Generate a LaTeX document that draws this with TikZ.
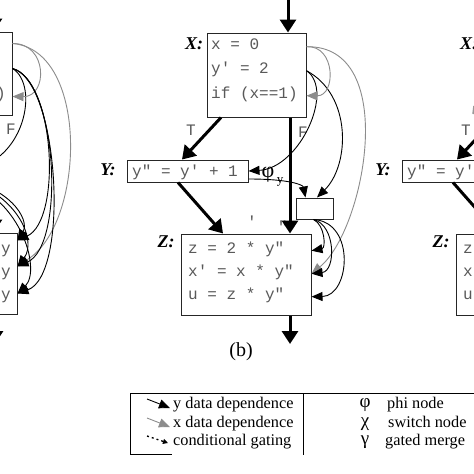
\documentclass[tikz,border=0pt]{standalone}
\usepackage{fontspec}
\setmainfont{Liberation Serif}
\setmonofont{Liberation Mono}
\usetikzlibrary{arrows.meta}
\begin{document}
\begin{tikzpicture}[x=1pt,y=-1pt,
 box/.style={draw=black!85,line width=1pt,inner sep=0pt},
 code/.style={font=\fontsize{16}{18}\selectfont\ttfamily,text=black!65,inner sep=0pt},
 lab/.style={font=\fontsize{18}{20}\selectfont\bfseries\itshape,inner sep=0pt},
 flow/.style={line width=3pt,-{Triangle[length=13pt,width=16pt]}},
 ydep/.style={line width=0.9pt,draw=black,-{Triangle[length=11pt,width=9pt]}},
 xdep/.style={line width=0.9pt,draw=black!45,-{Triangle[length=11pt,width=9pt]}},
 xline/.style={line width=1.5pt,draw=black!40},
 leg/.style={font=\fontsize{16.3}{18}\selectfont,inner sep=0pt},
 greek/.style={font=\fontsize{22}{22}\selectfont,inner sep=0pt},
 leggreek/.style={font=\fontsize{19}{19}\selectfont,inner sep=0pt},
 legline/.style={line width=0.9pt,draw=black},
]
\useasboundingbox (0,0) rectangle (474,474);
\fill[white] (0,0) rectangle (474,474);
\clip (0,0) rectangle (474,474);

% ================= panel (b) =================
\node[box,minimum width=99pt,minimum height=84pt] (X) at (256.5,75) {};
\node[code,anchor=base west] (x1) at (211,49) {x = 0};
\node[code,anchor=base west] (x2) at (211,73) {y′ = 2};
\node[code,anchor=base west] (x3) at (211,98) {if (x==1)};
\node[lab] (Xl) at (194,44) {X:};

\node[box,minimum width=121pt,minimum height=22pt] (Y) at (187.5,171) {};
\node[code,anchor=base west] (y1) at (132,176) {y″ = y′ + 1};
\node[lab] (Yl) at (108,170) {Y:};

\node[box,minimum width=37pt,minimum height=21pt] (S) at (314.5,208.5) {};

\node[box,minimum width=130pt,minimum height=81pt] (Z) at (246,274.5) {};
\node[code,anchor=base west] (z1) at (188,253) {z = 2 * y″};
\node[code,anchor=base west] (z2) at (188,276) {x′ = x * y″};
\node[code,anchor=base west] (z3) at (188,299) {u = z * y″};
\node[lab] (Zl) at (166,242) {Z:};
\node[code] (g1) at (252,222) {′};
\node[code] (g2) at (283,227) {″};

\node[code] (T) at (191,130) {T};
\node[code] (F) at (303,132) {F};
\node[greek] (phi) at (268,175) {φ};
\node[font=\fontsize{13}{13}\selectfont,inner sep=0pt] (phisub) at (280,182) {y};
\node[font=\fontsize{20}{22}\selectfont,inner sep=0pt] (capb) at (241,352) {(b)};

\coordinate (bin) at (288,-5);
\coordinate (fcol) at (290,0);
\coordinate (bout) at (290,344);
\draw[flow] (bin) -- (bin |- X.north);
\draw[flow] ([xshift=-35.5pt]X.south) -- ([xshift=-5.5pt]Y.north);
\draw[flow] (X.south -| fcol) -- (Z.north -| fcol);
\draw[flow] ([xshift=-9.5pt]Y.south) -- ([xshift=-23pt]Z.north);
\draw[flow] (Z.south -| fcol) -- (bout);

\draw[ydep] (X.east |- x2.mid) .. controls (335,90) and (300,168) .. (Y.east);
\draw[ydep] (X.east |- x2.mid) .. controls (352,95) and (350,165) .. ([xshift=2.5pt]S.north);
\draw[xdep] (X.east |- x1.mid) .. controls (336,45) and (336,96) .. (X.east |- x3.mid);
\draw[xdep] (X.east |- x1.mid) .. controls (400,45) and (365,230) .. (Z.east |- z2.mid);
\draw[ydep] ([yshift=-8pt]Y.east) .. controls (290,179) and (303,185) .. ([xshift=-9pt]S.north);
\draw[ydep] ([xshift=-1pt]S.south) .. controls (325,225) and (326,248) .. (Z.east |- z1.mid);
\draw[ydep] ([xshift=-1pt]S.south) .. controls (336,225) and (336,271) .. (Z.east |- z2.mid);
\draw[ydep] ([xshift=-1pt]S.south) .. controls (356,222) and (350,296) .. (Z.east |- z3.mid);

% ================= panel (a), cropped =================
\node[box,minimum width=99pt,minimum height=83pt] (Xa) at (-37.5,73.5) {};
\node[code,anchor=base east] (xa3) at (6,98) {if (x==1)};
\node[box,minimum width=121pt,minimum height=22pt] (Ya) at (-106.5,171) {};
\node[box,minimum width=130pt,minimum height=81pt] (Za) at (-48,273.5) {};
\node[code,anchor=base east] (za1) at (11,253) {y};
\node[code,anchor=base east] (za2) at (11,276) {y};
\node[code,anchor=base east] (za3) at (11,299) {y};
\node[code] (Fa) at (11,129) {F};

\coordinate (ain) at (-6,-5);
\coordinate (ain2) at (-6,190);
\coordinate (aout) at (-5,344);
\draw[flow] (ain) -- (ain |- Xa.north);
\draw[flow] (ain2) -- (ain2 |- Za.north);
\draw[flow] (Za.south -| aout) -- (aout);

\draw[ydep] ([yshift=5pt]Xa.east) .. controls (40,85) and (25,165) .. (Ya.east);
\draw[xdep] ([yshift=30pt]Xa.east) .. controls (48,43) and (48,97) .. ([yshift=-23pt]Xa.east);
\draw[xdep] ([yshift=30pt]Xa.east) .. controls (90,50) and (85,225) .. ([yshift=8pt]Za.east);
\draw[ydep] ([yshift=5pt]Xa.east) .. controls (55,80) and (62,220) .. ([yshift=33pt]Za.east);
\draw[ydep] ([yshift=5pt]Xa.east) .. controls (57,80) and (66,245) .. ([yshift=7pt]Za.east);
\draw[ydep] ([yshift=5pt]Xa.east) .. controls (59,80) and (70,275) .. ([yshift=-20pt]Za.east);
\draw[ydep] ([yshift=-7pt]Ya.east) .. controls (10,185) and (30,220) .. ([yshift=33pt]Za.east);
\draw[ydep] ([yshift=-7pt]Ya.east) .. controls (15,188) and (38,240) .. ([yshift=7pt]Za.east);
\draw[ydep] ([yshift=-7pt]Ya.east) .. controls (20,192) and (42,270) .. ([yshift=-20pt]Za.east);

% ================= panel (c), cropped =================
\node[box,minimum width=99pt,minimum height=84pt] (Xc) at (531.5,75) {};
\node[lab] (Xcl) at (469,44) {X:};
\node[code] (Tc) at (466,130) {T};
\node[box,minimum width=121pt,minimum height=22pt] (Yc) at (462.5,171) {};
\node[code,anchor=base west] (yc1) at (407,176) {y″ = y′ + 1};
\node[lab] (Ycl) at (383,170) {Y:};
\node[box,minimum width=130pt,minimum height=81pt] (Zc) at (521,274.5) {};
\node[code,anchor=base west] (zc1) at (463,253) {z = 2 * y″};
\node[code,anchor=base west] (zc2) at (463,276) {x′ = x * y″};
\node[code,anchor=base west] (zc3) at (463,299) {u = z * y″};
\node[lab] (Zcl) at (441,242) {Z:};
\draw[flow] ([xshift=-35.5pt]Xc.south) -- ([xshift=-5.5pt]Yc.north);
\draw[flow] ([xshift=-9.5pt]Yc.south) -- ([xshift=-23pt]Zc.north);
\coordinate (gt1) at (474,106);
\coordinate (gt2) at (473,114);
\draw[xline] (gt1) -- (gt2);

% ================= legend =================
\coordinate (L1) at (130,393);
\coordinate (L2) at (480,393);
\coordinate (L3) at (130,454);
\coordinate (L4) at (172,454);
\coordinate (D1) at (303,393);
\coordinate (D2) at (303,455);
\draw[legline] (L2) -- (L1) -- (L3) -- (L4);
\draw[legline] (D1) -- (D2);

\coordinate (i1a) at (147,399); \coordinate (i1b) at (170,408);
\coordinate (i2a) at (147,418); \coordinate (i2b) at (170,427);
\coordinate (i3a) at (147,436); \coordinate (i3b) at (168,443);
\draw[ydep] (i1a) -- (i1b);
\draw[xdep] (i2a) -- (i2b);
\draw[line width=1.3pt,dash pattern=on 2pt off 3pt,-{Triangle[length=5pt,width=5pt]}] (i3a) -- (i3b);

\node[leg,anchor=base west] (t1) at (173,408) {y data dependence};
\node[leg,anchor=base west] (t2) at (173,427) {x data dependence};
\node[leg,anchor=base west] (t3) at (173,445) {conditional gating};
\node[leggreek,anchor=base] (s1) at (365,407) {φ};
\node[leggreek,anchor=base] (s2) at (365,426) {χ};
\node[leggreek,anchor=base] (s3) at (365,444) {γ};
\node[leg,anchor=base west] (u1) at (387,408) {phi node};
\node[leg,anchor=base west] (u2) at (388,427) {switch node};
\node[leg,anchor=base west] (u3) at (385,445) {gated merge};
\end{tikzpicture}
\end{document}
